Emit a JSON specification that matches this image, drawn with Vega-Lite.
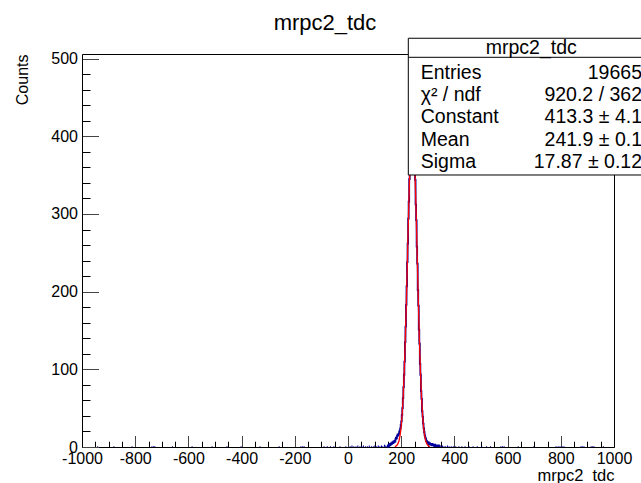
{
  "$schema": "https://vega.github.io/schema/vega-lite/v6.json",
  "width": 532,
  "height": 393,
  "autosize": {"type": "none"},
  "padding": {"left": 82, "top": 54, "right": 27, "bottom": 36},
  "background": "white",
  "title": {"text": "mrpc2_tdc", "font": "Liberation Sans", "fontSize": 22, "fontWeight": "normal", "color": "black", "anchor": "middle", "frame": "group", "offset": -14, "baseline": "alphabetic", "dx": -23},
  "config": {
    "view": {"stroke": null},
    "font": "Liberation Sans",
    "axis": {"grid": false, "domainColor": "black", "domainWidth": 1, "tickColor": "black", "tickWidth": 1, "labelFont": "Liberation Sans", "labelFontSize": 16, "labelColor": "black", "titleFont": "Liberation Sans", "titleFontSize": 16, "titleFontWeight": "normal", "titleColor": "black", "labelFlush": false, "labelOverlap": false, "labelBound": false}
  },
  "datasets": {
    "hist": [
      {"x":148,"n":0},{"x":150,"n":2},{"x":152,"n":1},{"x":154,"n":3},{"x":156,"n":2},{"x":158,"n":4},{"x":160,"n":3},{"x":162,"n":5},{"x":164,"n":4},{"x":166,"n":6},{"x":168,"n":5},{"x":170,"n":7},{"x":172,"n":6},{"x":174,"n":8},{"x":176,"n":7},{"x":178,"n":10},{"x":180,"n":12},{"x":182,"n":11},{"x":184,"n":14},{"x":186,"n":16},{"x":188,"n":15},{"x":190,"n":17},{"x":192,"n":19},{"x":194,"n":21},{"x":196,"n":24},{"x":198,"n":28},{"x":200,"n":33},{"x":202,"n":41},{"x":204,"n":50},{"x":206,"n":63},{"x":208,"n":77},{"x":210,"n":93},{"x":212,"n":110},{"x":214,"n":135},{"x":216,"n":155},{"x":218,"n":183},{"x":220,"n":207},{"x":222,"n":238},{"x":224,"n":262},{"x":226,"n":294},{"x":228,"n":316},{"x":230,"n":345},{"x":232,"n":362},{"x":234,"n":387},{"x":236,"n":396},{"x":238,"n":411},{"x":240,"n":418},{"x":242,"n":409},{"x":244,"n":414},{"x":246,"n":393},{"x":248,"n":385},{"x":250,"n":360},{"x":252,"n":344},{"x":254,"n":312},{"x":256,"n":292},{"x":258,"n":258},{"x":260,"n":236},{"x":262,"n":202},{"x":264,"n":182},{"x":266,"n":151},{"x":268,"n":133},{"x":270,"n":107},{"x":272,"n":93},{"x":274,"n":72},{"x":276,"n":62},{"x":278,"n":46},{"x":280,"n":39},{"x":282,"n":30},{"x":284,"n":24},{"x":286,"n":19},{"x":288,"n":15},{"x":290,"n":12},{"x":292,"n":10},{"x":294,"n":8},{"x":296,"n":7},{"x":298,"n":6},{"x":300,"n":5},{"x":302,"n":6},{"x":304,"n":4},{"x":306,"n":5},{"x":308,"n":3},{"x":310,"n":4},{"x":312,"n":3},{"x":314,"n":2},{"x":316,"n":4},{"x":318,"n":2},{"x":320,"n":3},{"x":322,"n":2},{"x":324,"n":1},{"x":326,"n":3},{"x":328,"n":2},{"x":330,"n":1},{"x":332,"n":2},{"x":334,"n":1},{"x":336,"n":2},{"x":338,"n":1},{"x":340,"n":2},{"x":342,"n":1},{"x":344,"n":0}
    ],
    "spikes": [
      {"x":8,"n":1},{"x":15,"n":2},{"x":22,"n":1},{"x":30,"n":1},{"x":37,"n":2},{"x":45,"n":1},{"x":52,"n":1},{"x":58,"n":2},{"x":66,"n":1},{"x":73,"n":1},{"x":80,"n":2},{"x":88,"n":1},{"x":95,"n":1},{"x":101,"n":2},{"x":108,"n":1},{"x":114,"n":2},{"x":120,"n":1},{"x":126,"n":2},{"x":131,"n":1},{"x":137,"n":3},{"x":142,"n":2},{"x":146,"n":1},
      {"x":346,"n":2},{"x":350,"n":1},{"x":355,"n":2},{"x":361,"n":1},{"x":367,"n":1},{"x":374,"n":2},{"x":380,"n":1},{"x":388,"n":1},{"x":396,"n":1},{"x":405,"n":1},{"x":417,"n":1},{"x":428,"n":1},{"x":440,"n":1},{"x":455,"n":1},{"x":470,"n":1},{"x":486,"n":1},{"x":503,"n":1},{"x":521,"n":1},{"x":536,"n":1},
      {"x":-941,"n":1},{"x":-880,"n":1},{"x":-812,"n":1},{"x":-737,"n":1},{"x":-731,"n":1},{"x":-726,"n":1},{"x":-660,"n":1},{"x":-586,"n":1},{"x":-511,"n":1},{"x":-455,"n":1},{"x":-402,"n":1},{"x":-331,"n":1},{"x":-259,"n":1},{"x":-177,"n":1},{"x":-170,"n":1},{"x":-165,"n":1},{"x":-90,"n":1},{"x":-78,"n":1},{"x":-66,"n":1},{"x":-53,"n":1},{"x":-30,"n":1},{"x":-8,"n":1},
      {"x":575,"n":1},{"x":581,"n":1},{"x":587,"n":1},{"x":640,"n":1},{"x":699,"n":1},{"x":782,"n":1},{"x":790,"n":1},{"x":797,"n":1},{"x":805,"n":1},{"x":812,"n":1},{"x":876,"n":1},{"x":881,"n":1},{"x":887,"n":1},{"x":914,"n":1},{"x":920,"n":1},{"x":925,"n":1},{"x":960,"n":1}
    ],
    "fit": [
      {"x":176,"f":0.46},{"x":180,"f":1.02},{"x":184,"f":2.17},{"x":188,"f":4.37},{"x":192,"f":8.38},{"x":196,"f":15.26},{"x":200,"f":26.45},{"x":204,"f":43.6},{"x":208,"f":68.4},{"x":212,"f":101.9},{"x":216,"f":144.6},{"x":220,"f":195.0},{"x":224,"f":250.3},{"x":228,"f":305.4},{"x":232,"f":354.5},{"x":236,"f":391.4},{"x":240,"f":411.0},{"x":242,"f":413.3},{"x":244,"f":410.5},{"x":248,"f":389.9},{"x":252,"f":352.3},{"x":256,"f":302.8},{"x":260,"f":247.4},{"x":264,"f":192.4},{"x":268,"f":142.3},{"x":272,"f":100.1},{"x":276,"f":66.9},{"x":280,"f":42.6},{"x":284,"f":25.8},{"x":288,"f":14.8},{"x":292,"f":8.12},{"x":296,"f":4.23},{"x":300,"f":2.09},{"x":304,"f":0.99},{"x":308,"f":0.45}
    ],
    "statsHeader": [{"name": "mrpc2_tdc", "row": 0}],
    "stats": [
      {"row": 1, "label": "Entries", "value": "19665"},
      {"row": 2, "label": "χ² / ndf", "value": "920.2 / 362"},
      {"row": 3, "label": "Constant", "value": "413.3 ± 4.1"},
      {"row": 4, "label": "Mean", "value": "241.9 ± 0.1"},
      {"row": 5, "label": "Sigma", "value": "17.87 ± 0.12"}
    ]
  },
  "layer": [
    {
      "data": {"name": "hist"},
      "mark": {"type": "line", "interpolate": "step-after", "color": "#00009c", "strokeWidth": 1.8},
      "encoding": {
        "x": {"field": "x", "type": "quantitative", "scale": {"domain": [-1000, 1000], "nice": false, "zero": false},
          "axis": {"orient": "bottom", "values": [-1000,-800,-600,-400,-200,0,200,400,600,800,1000], "tickSize": -11.5, "tickColor": "#444", "labelPadding": 15, "labelExpr": "'' + datum.value", "title": "mrpc2_tdc", "titleAnchor": "end", "titleAlign": "right", "titleBaseline": "alphabetic", "titlePadding": 14, "titleFontSize": 16.5}},
        "y": {"field": "n", "type": "quantitative", "scale": {"domain": [0, 506], "nice": false},
          "axis": {"orient": "left", "values": [0,100,200,300,400,500], "tickSize": -16.5, "tickColor": "#444", "labelPadding": 21, "labelExpr": "'' + datum.value", "title": "Counts", "titleAnchor": "end", "titleAlign": "right", "titlePadding": 20, "titleFontSize": 16}}
      }
    },
    {
      "data": {"name": "fit"},
      "mark": {"type": "line", "color": "#ff0000", "strokeWidth": 1.3},
      "encoding": {
        "x": {"field": "x", "type": "quantitative", "scale": {"domain": [-1000, 1000], "nice": false, "zero": false},
          "axis": {"orient": "bottom", "values": [-950,-900,-850,-750,-700,-650,-550,-500,-450,-350,-300,-250,-150,-100,-50,50,100,150,250,300,350,450,500,550,650,700,750,850,900,950], "tickSize": -5.8, "labels": false, "domain": false, "title": null}},
        "y": {"field": "f", "type": "quantitative", "scale": {"domain": [0, 506], "nice": false},
          "axis": {"orient": "left", "values": [20,40,60,80,120,140,160,180,220,240,260,280,320,340,360,380,420,440,460,480], "tickSize": -8, "labels": false, "domain": false, "title": null}}
      }
    },
    {
      "data": {"name": "spikes"},
      "mark": {"type": "rule", "color": "#00009c", "strokeWidth": 1},
      "encoding": {
        "x": {"field": "x", "type": "quantitative", "scale": {"domain": [-1000, 1000], "nice": false, "zero": false},
          "axis": {"orient": "top", "ticks": false, "labels": false, "domain": true, "title": null}},
        "y": {"field": "n", "type": "quantitative", "scale": {"domain": [0, 506], "nice": false},
          "axis": {"orient": "right", "ticks": false, "labels": false, "domain": true, "title": null}},
        "y2": {"datum": 0}
      }
    },
    {
      "layer": [
        {
          "data": {"name": "statsHeader"},
          "mark": {"type": "rect", "fill": "white", "stroke": "black", "strokeWidth": 1},
          "encoding": {
            "x": {"datum": 226.7, "type": "quantitative", "scale": {"domain": [-1000, 1000], "nice": false, "zero": false}, "axis": null},
            "x2": {"datum": 1300},
            "y": {"datum": -0.835, "type": "quantitative", "scale": {"domain": [-0.126, 17.576], "reverse": true, "nice": false, "zero": false}, "axis": null},
            "y2": {"datum": 5.324}
          }
        },
        {
          "data": {"name": "statsHeader"},
          "mark": {"type": "rule", "color": "black", "strokeWidth": 1},
          "encoding": {
            "x": {"datum": 226.7, "type": "quantitative", "scale": {"domain": [-1000, 1000], "nice": false, "zero": false}, "axis": null},
            "x2": {"datum": 1300},
            "y": {"datum": 0.023, "type": "quantitative", "scale": {"domain": [-0.126, 17.576], "reverse": true, "nice": false, "zero": false}, "axis": null}
          }
        },
        {
          "data": {"name": "statsHeader"},
          "mark": {"type": "text", "font": "Liberation Sans", "fontSize": 19.5, "align": "center", "baseline": "alphabetic", "color": "black", "dy": -3},
          "encoding": {
            "x": {"datum": 689.1, "type": "quantitative", "scale": {"domain": [-1000, 1000], "nice": false, "zero": false}, "axis": null},
            "y": {"field": "row", "type": "quantitative", "scale": {"domain": [-0.126, 17.576], "reverse": true, "nice": false, "zero": false}, "axis": null},
            "text": {"field": "name"}
          }
        },
        {
          "data": {"name": "stats"},
          "mark": {"type": "text", "font": "Liberation Sans", "fontSize": 19.5, "align": "left", "baseline": "alphabetic", "color": "black"},
          "encoding": {
            "x": {"datum": 273.3, "type": "quantitative", "scale": {"domain": [-1000, 1000], "nice": false, "zero": false}, "axis": null},
            "y": {"field": "row", "type": "quantitative", "scale": {"domain": [-0.126, 17.576], "reverse": true, "nice": false, "zero": false}, "axis": null},
            "text": {"field": "label"}
          }
        },
        {
          "data": {"name": "stats"},
          "mark": {"type": "text", "font": "Liberation Sans", "fontSize": 19.5, "align": "right", "baseline": "alphabetic", "color": "black"},
          "encoding": {
            "x": {"datum": 1105.3, "type": "quantitative", "scale": {"domain": [-1000, 1000], "nice": false, "zero": false}, "axis": null},
            "y": {"field": "row", "type": "quantitative", "scale": {"domain": [-0.126, 17.576], "reverse": true, "nice": false, "zero": false}, "axis": null},
            "text": {"field": "value"}
          }
        }
      ]
    }
  ],
  "resolve": {"scale": {"y": "independent"}, "axis": {"x": "independent", "y": "independent"}}
}
